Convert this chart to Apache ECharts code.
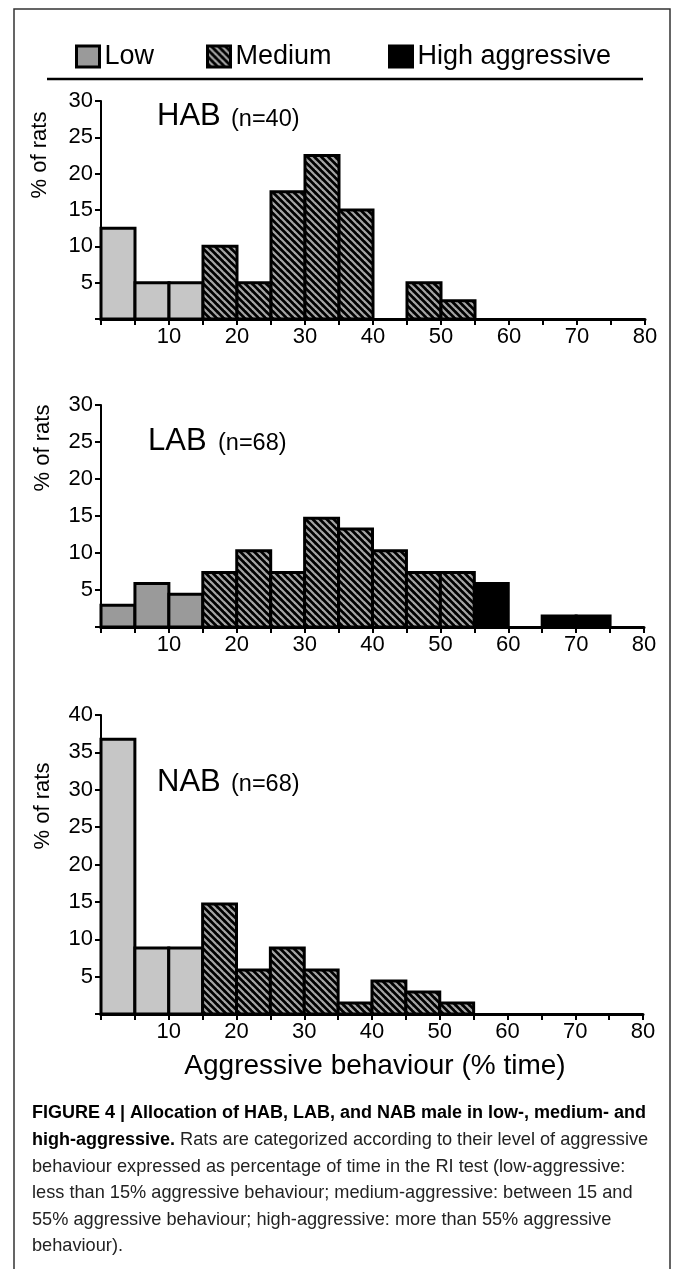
<!DOCTYPE html>
<html><head><meta charset="utf-8">
<script src="https://cdn.jsdelivr.net/npm/echarts@6/dist/echarts.min.js"></script>
<style>html,body{margin:0;padding:0;background:#fff}#c{width:673px;height:1269px}</style>
</head><body><div id="c"></div>
<script>
// ---- data ----
const binStarts = [0,5,10,15,20,25,30,35,40,45,50,55,60,65,70,75];
const binWidth = 5;
const habValues = [12.5,5,5,10,5,17.5,22.5,15,0,5,2.5,0,0,0,0,0];
const labValues = [2.94,5.88,4.41,7.35,10.29,7.35,14.71,13.24,10.29,7.35,7.35,5.88,0,1.47,1.47,0];
const nabValues = [36.76,8.82,8.82,14.71,5.88,8.82,5.88,1.47,4.41,2.94,1.47,0,0,0,0,0];
const xTickLabels = [10,20,30,40,50,60,70,80];
const yTickLabels = [[5,10,15,20,25,30],[5,10,15,20,25,30],[5,10,15,20,25,30,35,40]];
const categories = ['Low','Medium','High aggressive'];
const lowUpper = 15, mediumUpper = 55;
const panelNames = ['HAB','LAB','NAB'];
const panelN = ['(n=40)','(n=68)','(n=68)'];
const panelValues = [habValues, labValues, nabValues];
const yMax = [30,30,40];
const yAxisName = '% of rats';
const xAxisName = 'Aggressive behaviour (% time)';
const captionLines = [
  [['b','FIGURE 4 | Allocation of HAB, LAB, and NAB male in low-, medium- and']],
  [['b','high-aggressive.'],['r',' Rats are categorized according to their level of aggressive']],
  [['r','behaviour expressed as percentage of time in the RI test (low-aggressive:']],
  [['r','less than 15% aggressive behaviour; medium-aggressive: between 15 and']],
  [['r','55% aggressive behaviour; high-aggressive: more than 55% aggressive']],
  [['r','behaviour).']]
];

// ---- styles ----
const FONT = "'Liberation Sans', Arial, sans-serif";
const CAPFONT = "'Liberation Sans', Arial, sans-serif";
function hatchCanvas(){
  const s = 7, c = document.createElement('canvas');
  c.width = s; c.height = s;
  const g = c.getContext('2d');
  g.fillStyle = '#000'; g.fillRect(0,0,s,s);
  g.strokeStyle = '#a6a6a6'; g.lineWidth = 2.2;
  for (const o of [-s,0,s]) { g.beginPath(); g.moveTo(o-1,-1); g.lineTo(o+s+1,s+1); g.stroke(); }
  return c;
}
const hatch = {image: hatchCanvas(), repeat: 'repeat'};
const lowFill = ['#c6c6c6', '#9a9a9a', '#c6c6c6'];
const catFill = (p, cat) => cat === 'Low' ? lowFill[p] : (cat === 'Medium' ? hatch : '#000');
function catOf(x0){ return x0 < lowUpper ? 'Low' : (x0 < mediumUpper ? 'Medium' : 'High aggressive'); }

const grids = [
  {left:101, right:28, top:101, height:218},
  {left:101, right:29, top:405, height:222},
  {left:101, right:30, top:715, height:299}
];

const xAxes = grids.map((g,i)=>({
  gridIndex:i, type:'value', min:0, max:80, interval:5,
  axisLine:{show:true, onZero:false, lineStyle:{color:'#000', width:3}},
  axisTick:{show:true, length:6, lineStyle:{color:'#000', width:2}},
  axisLabel:{formatter:v=>xTickLabels.includes(v)?String(v):'', fontSize:22, color:'#000', fontFamily:FONT, margin:7},
  splitLine:{show:false}
}));
const yAxes = grids.map((g,i)=>({
  gridIndex:i, type:'value', min:0, max:yMax[i], interval:5,
  axisLine:{show:true, lineStyle:{color:'#000', width:2}},
  axisTick:{show:true, length:6, lineStyle:{color:'#000', width:2}},
  axisLabel:{formatter:v=>yTickLabels[i].includes(v)?String(v):'', fontSize:22, color:'#000', fontFamily:FONT, margin:8},
  splitLine:{show:false}
}));

const series = [];
panelValues.forEach((vals, p)=>{
  categories.forEach(cat=>{
    const data = [];
    binStarts.forEach((x0,k)=>{ if (catOf(x0)===cat && vals[k] > 0) data.push([x0, x0+binWidth, vals[k]]); });
    const fill = catFill(p, cat);
    series.push({
      type:'custom', name:cat, xAxisIndex:p, yAxisIndex:p, data:data,
      itemStyle:{color: fill},
      encode:{x:[0,1], y:2},
      renderItem:function(params, api){
        const a = api.coord([api.value(0), api.value(2)]);
        const b = api.coord([api.value(1), 0]);
        return {type:'rect', shape:{x:a[0], y:a[1], width:b[0]-a[0], height:b[1]-a[1]},
          style:{fill: fill, stroke:'#000', lineWidth:3}};
      }
    });
  });
});

const graphics = [];
// frame
graphics.push({type:'polyline', shape:{points:[[14,1269],[14,9],[670,9],[670,1269]]}, style:{stroke:'#333', lineWidth:1.5, fill:null}});
// legend rule
graphics.push({type:'line', shape:{x1:47,y1:79,x2:643,y2:79}, style:{stroke:'#000', lineWidth:2.5}});
// y axis names
const yNameCenters = [[40,155],[43,448],[43,806]];
yNameCenters.forEach(c=>graphics.push({type:'text', x:c[0], y:c[1], rotation:Math.PI/2,
  style:{text:yAxisName, fontSize:22, fontFamily:FONT, fill:'#000', align:'center', verticalAlign:'middle'}}));
// panel titles
const titleBig = [[157,116],[148,441],[157,782]];
const titleSmall = [[231,120],[218,444],[231,785]];
titleBig.forEach((t,i)=>graphics.push({type:'text', x:t[0], y:t[1],
  style:{text:panelNames[i], fontSize:31, fontFamily:FONT, fill:'#000', verticalAlign:'middle'}}));
titleSmall.forEach((t,i)=>graphics.push({type:'text', x:t[0], y:t[1],
  style:{text:panelN[i], fontSize:23.5, fontFamily:FONT, fill:'#000', verticalAlign:'middle'}}));
// x axis title
graphics.push({type:'text', x:375, y:1066, style:{text:xAxisName, fontSize:28, fontFamily:FONT, fill:'#000', align:'center', verticalAlign:'middle'}});
// caption
const capY = [1113,1140,1167,1193,1220,1246];
captionLines.forEach((line,i)=>{
  graphics.push({type:'text', x:32, y:capY[i], style:{
    text: line.map(s=>'{'+s[0]+'|'+s[1]+'}').join(''), verticalAlign:'middle', fill:'#222',
    rich:{b:{fontSize:18, fontWeight:'bold', fontFamily:CAPFONT, fill:'#000'}, r:{fontSize:18.2, fontFamily:CAPFONT, fill:'#222'}}}});
});

const legendCommon = {icon:'rect', itemWidth:23, itemHeight:21, top:43, padding:0, selectedMode:false,
  textStyle:{fontSize:27, fontFamily:FONT, color:'#000'}};
const legendFills = ['#9a9a9a', hatch, '#000'];
const legendLeft = [75, 206, 388];

const chart = echarts.init(document.getElementById('c'), null, {renderer:'canvas'});
chart.setOption({
  backgroundColor:'#fff',
  animation:false,
  grid:grids,
  xAxis:xAxes,
  yAxis:yAxes,
  legend:categories.map((c,i)=>Object.assign({}, legendCommon, {left:legendLeft[i],
    data:[{name:c, itemStyle:{color:legendFills[i], borderColor:'#000', borderWidth:3}}]})),
  series:series,
  graphic:graphics
});
</script></body></html>
